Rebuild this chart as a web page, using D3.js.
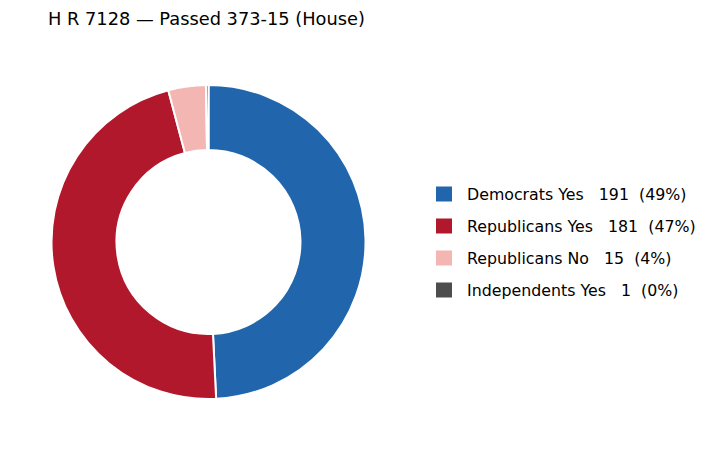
<!DOCTYPE html>
<html><head><meta charset="utf-8">
<script src="https://cdn.jsdelivr.net/npm/d3@7"></script>
<style>body{margin:0;background:#fff;} text{font-family:"DejaVu Sans",sans-serif;}</style>
</head><body>
<svg id="chart" width="712" height="450"></svg>
<script>
const categories = ["Democrats Yes", "Republicans Yes", "Republicans No", "Independents Yes"];
const values = [191, 181, 15, 1];
const colors = ["#2166ac", "#b2182b", "#f4b6b2", "#4d4d4d"];
const title = "H R 7128 \u2014 Passed 373-15 (House)";

const svg = d3.select("#chart");
const total = d3.sum(values);
const data = categories.map((c, i) => ({name: c, value: values[i], color: colors[i]}));

svg.append("text").attr("x", 48).attr("y", 24.5).attr("font-size", 17.8).attr("fill", "#000").text(title);

const cx = 208.5, cy = 242, rOuter = 157, rInner = 92;
const pie = d3.pie().value(d => d.value).sort(null).startAngle(0).endAngle(2 * Math.PI);
const arc = d3.arc().innerRadius(rInner).outerRadius(rOuter);
const g = svg.append("g").attr("transform", `translate(${cx},${cy})`);
g.selectAll("path").data(pie(data)).join("path")
  .attr("d", arc).attr("fill", d => d.data.color)
  .attr("stroke", "#fff").attr("stroke-width", 2).attr("stroke-linejoin", "round");

const legendY = d3.scalePoint().domain(categories).range([194, 290]);
const lg = svg.append("g");
const rows = lg.selectAll("g").data(data).join("g").attr("transform", d => `translate(436,${legendY(d.name)})`);
rows.append("rect").attr("x", 0).attr("y", -7.5).attr("width", 16).attr("height", 15).attr("fill", d => d.color);
rows.append("text").attr("x", 31).attr("y", 5.5).attr("font-size", 15.8).attr("fill", "#000")
  .style("white-space", "pre")
  .text(d => `${d.name}   ${d.value}  (${Math.round(d.value / total * 100)}%)`);
</script>
</body></html>
